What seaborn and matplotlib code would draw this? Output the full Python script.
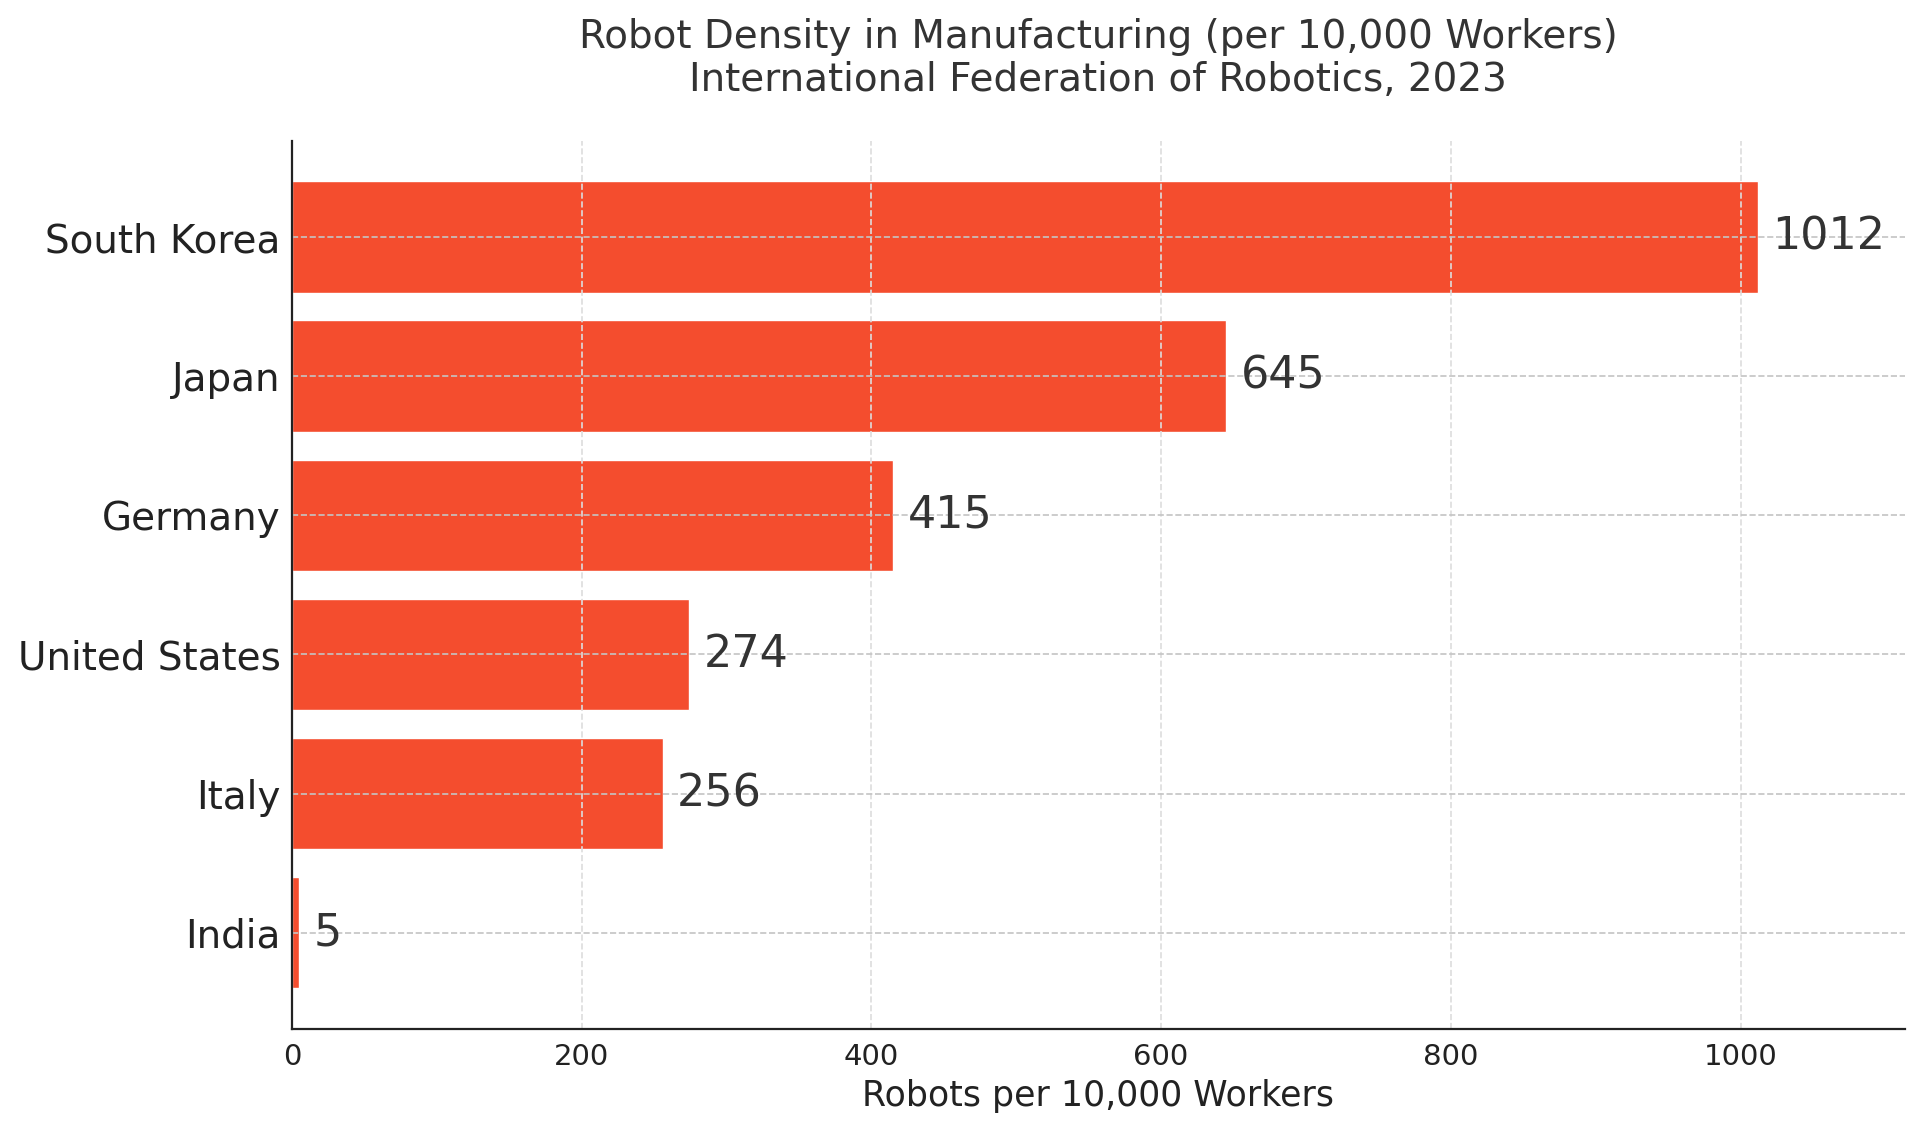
import pandas as pd
import matplotlib.pyplot as plt
import seaborn as sns

countries = ['South Korea', 'Japan', 'Germany', 'United States', 'Italy', 'India']
density = [1012, 645, 415, 274, 256, 5]

df = pd.DataFrame({'country': countries, 'density': density})

sns.set_theme(style='white')
plt.rcParams['font.family'] = ['DejaVu Sans']

fig, ax = plt.subplots(figsize=(19.2, 11.28), dpi=100)
sns.barplot(data=df, x='density', y='country', orient='h', color='#F44D2E',
            saturation=1, width=0.8, ax=ax)

# value labels right of each bar
for i, v in enumerate(density):
    ax.text(v + 10, i, str(v), va='center', ha='left', fontsize=32, color='#333333')

ax.set_xlim(0, max(density) * 1.1)
ax.set_ylim(len(countries) - 1 + 0.69, -0.69)
ax.set_axisbelow(False)
ax.xaxis.grid(True, linestyle='--', color='#dddddd', linewidth=1.2)
ax.yaxis.grid(True, linestyle='--', color='#c4c4c4', linewidth=1.2)

sns.despine(ax=ax)
for s in ['left', 'bottom']:
    ax.spines[s].set_color('#222222')
    ax.spines[s].set_linewidth(1.6)
    ax.spines[s].set_zorder(5)

ax.tick_params(axis='both', direction='in', length=6, width=1.3, color='#222222')
ax.tick_params(axis='x', labelsize=21, labelcolor='#222222', pad=10)
ax.tick_params(axis='y', labelsize=28, labelcolor='#222222', pad=8)

ax.set_xlabel('Robots per 10,000 Workers', fontsize=25, color='#222222', labelpad=6)
ax.set_ylabel('')
ax.set_title('Robot Density in Manufacturing (per 10,000 Workers)\nInternational Federation of Robotics, 2023',
             fontsize=28, color='#333333', pad=36, linespacing=1.15)

fig.subplots_adjust(left=0.152, right=0.992, top=0.875, bottom=0.088)
fig.savefig('out.png', dpi=100)
